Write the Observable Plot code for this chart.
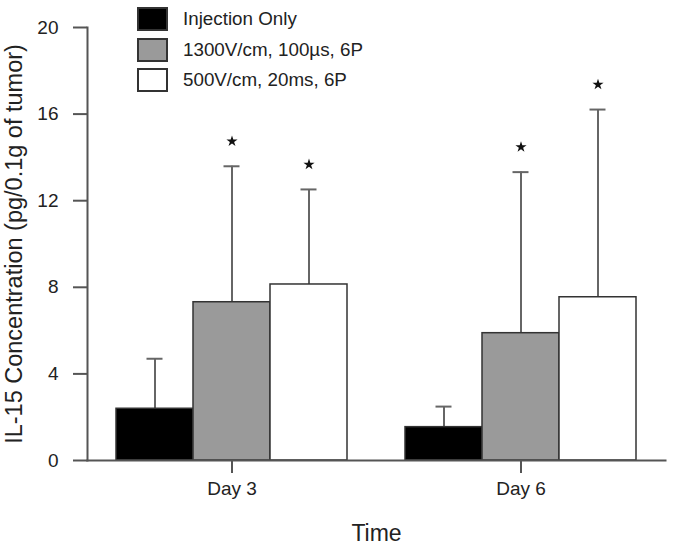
<!DOCTYPE html>
<html>
<head>
<meta charset="utf-8">
<script src="https://cdn.jsdelivr.net/npm/d3@7"></script>
<script src="https://cdn.jsdelivr.net/npm/@observablehq/plot@0.6"></script>
<style>
  html, body { margin: 0; padding: 0; background: #fff; }
  #wrap { position: relative; width: 675px; height: 549px; font-family: "Liberation Sans", Arial, sans-serif; color: #222; }
  #legend { position: absolute; left: 137px; top: 4px; }
  .row { display: flex; align-items: center; height: 30.5px; }
  .sw { width: 27px; height: 20px; border: 2px solid #333; box-sizing: content-box; }
  .lab { margin-left: 15px; font-size: 18.8px; white-space: nowrap; color: #222; }
</style>
</head>
<body>
<div id="wrap"><div id="legend"></div></div>
<script>
const days = ["Day 3", "Day 6"];
const series = ["Injection Only", "1300V/cm, 100µs, 6P", "500V/cm, 20ms, 6P"];
const colors = ["#000000", "#9a9a9a", "#ffffff"];
const meansDay3 = [2.39, 7.31, 8.13];
const meansDay6 = [1.54, 5.88, 7.54];
const errDay3 = [2.31, 6.28, 4.39];
const errDay6 = [0.95, 7.44, 8.67];
const sigDay3 = [false, true, true];
const sigDay6 = [false, true, true];
const yTicks = [0, 4, 8, 12, 16, 20];

const means = [meansDay3, meansDay6];
const errs = [errDay3, errDay6];
const sigs = [sigDay3, sigDay6];
const data = [];
days.forEach((day, i) => series.forEach((s, j) => data.push({
  day, series: s, value: means[i][j], top: means[i][j] + errs[i][j], sig: sigs[i][j]
})));

const chart = Plot.plot({
  width: 675,
  height: 549,
  marginLeft: 87,
  marginRight: 10,
  marginTop: 27,
  marginBottom: 89,
  style: { fontFamily: "Liberation Sans, Arial, sans-serif", color: "#222", background: "white" },
  fx: { domain: days, padding: 0, label: "Time" },
  x: { domain: series, padding: 0, axis: null, insetLeft: 29, insetRight: 29 },
  y: { domain: [0, 20], ticks: yTicks },
  color: { domain: series, range: colors },
  marks: [
    Plot.ruleX(data, { fx: "day", x: "series", y1: "value", y2: "top", stroke: "#666", strokeWidth: 2 }),
    Plot.tickY(data, { fx: "day", x: "series", y: "top", stroke: "#666", strokeWidth: 2, insetLeft: 30.5, insetRight: 30.5 }),
    Plot.barY(data, { fx: "day", x: "series", y: "value", fill: "series", stroke: "#333", strokeWidth: 1.5 }),
    Plot.dot(data.filter(d => d.sig), { fx: "day", x: "series", y: "top", dy: -25, symbol: "star", r: 3.5, fill: "#111", stroke: "none" }),
    Plot.frame({ anchor: "left", facet: "super", stroke: "#555", strokeWidth: 2 }),
    Plot.frame({ anchor: "bottom", facet: "super", stroke: "#555", strokeWidth: 2 }),
    Plot.axisY({ ticks: yTicks, tickSize: 14, tickPadding: 15, fontSize: 19, stroke: "#555", strokeWidth: 2, label: null }),
    Plot.axisY({ ticks: [], tickSize: 0, fontSize: 23.5, labelOffset: 82,
      label: "IL-15 Concentration (pg/0.1g of tumor)", labelAnchor: "center", labelArrow: "none" }),
    Plot.axisFx({ anchor: "bottom", tickSize: 13, tickPadding: 8, fontSize: 19, stroke: "#555", strokeWidth: 2, label: null }),
    Plot.axisFx({ anchor: "bottom", ticks: [], tickSize: 0, fontSize: 23, labelOffset: 80,
      label: "Time", labelAnchor: "center", labelArrow: "none" })
  ]
});
document.getElementById("wrap").prepend(chart);

const legend = d3.select("#legend");
series.forEach((s, j) => {
  const row = legend.append("div").attr("class", "row");
  row.append("div").attr("class", "sw").style("background", colors[j]);
  row.append("div").attr("class", "lab").text(s);
});
</script>
</body>
</html>
